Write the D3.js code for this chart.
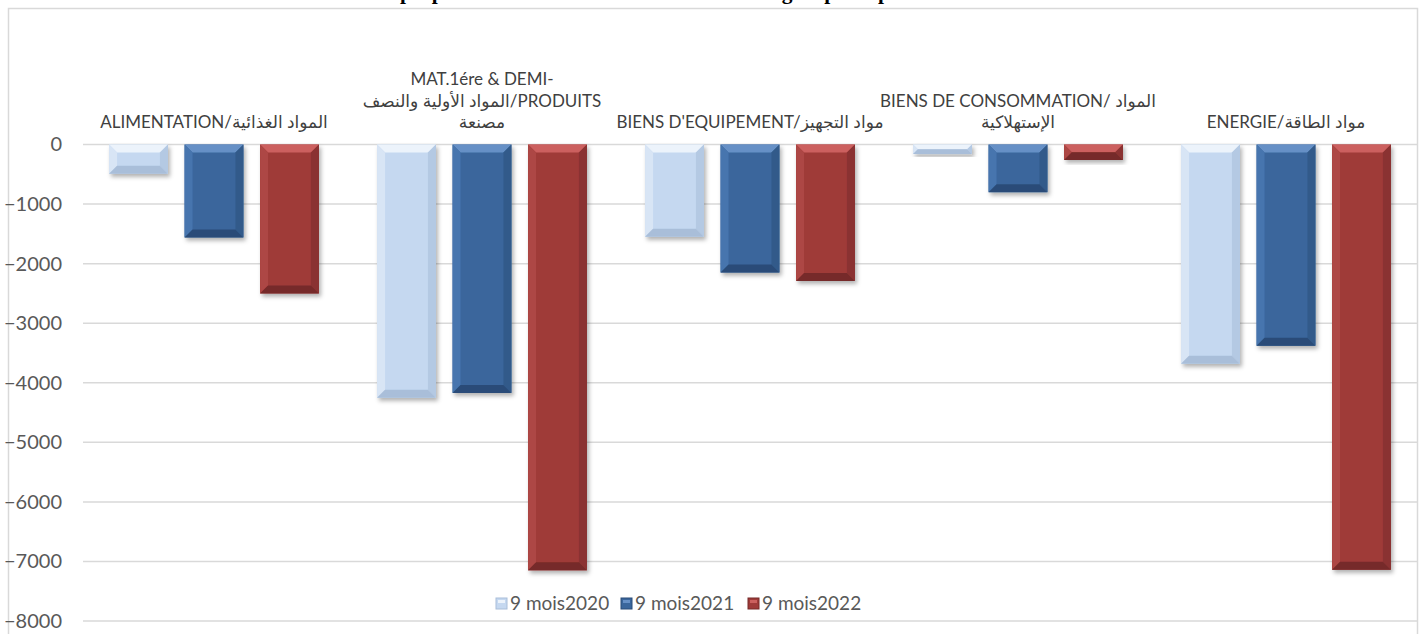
<!DOCTYPE html>
<html lang="fr">
<head>
<meta charset="UTF-8">
<title>Balance commerciale par groupe de produits</title>
<script src="https://cdnjs.cloudflare.com/ajax/libs/d3/7.8.5/d3.min.js"></script>
<style>
  html, body { margin: 0; padding: 0; background: #fff; overflow: hidden; }
  svg { display: block; }
  .tick text { font-family: Lato, "Open Sans", sans-serif; }
</style>
</head>
<body>
<div id="chart"></div>
<script>
// Data
const categories = ["ALIMENTATION", "MAT1ERE", "EQUIPEMENT", "CONSOMMATION", "ENERGIE"];
const categoryLabels = [
  ["ALIMENTATION/المواد الغذائية"],
  ["MAT.1ére & DEMI-", "المواد الأولية والنصف/PRODUITS", "مصنعة"],
  ["BIENS D'EQUIPEMENT/مواد التجهيز"],
  ["BIENS DE CONSOMMATION/ المواد", "الإستهلاكية"],
  ["ENERGIE/مواد الطاقة"]
];
const seriesNames = ["9 mois2020", "9 mois2021", "9 mois2022"];
const values2020 = [-490, -4250, -1550, -160, -3680];
const values2021 = [-1560, -4170, -2150, -800, -3380];
const values2022 = [-2500, -7150, -2290, -260, -7140];
const yTicks = [0, -1000, -2000, -3000, -4000, -5000, -6000, -7000, -8000];
const titleText = "Evolution de la proportion du déficit commercial selon le groupe de produits";

const series = [values2020, values2021, values2022];

// bar palettes: main face and the four bevel edges
const palettes = [
  { main: "#c5d8f0", top: "#ecf3fb", left: "#d8e5f5", right: "#b4c9e3", bottom: "#a9bed9" },
  { main: "#3a669c", top: "#6690c6", left: "#4675ae", right: "#315a8a", bottom: "#2a4c78" },
  { main: "#9f3a39", top: "#cc605e", left: "#ad4644", right: "#8a3231", bottom: "#762a29" }
];

const width = 1421, height = 634;
const margin = { left: 83, right: 4, top: 144.5, bottom: 13 };

const svg = d3.select("#chart").append("svg")
  .attr("width", width)
  .attr("height", height);

const defs = svg.append("defs");
const shadow = defs.append("filter").attr("id", "shadow")
  .attr("x", "-20%").attr("y", "-20%").attr("width", "150%").attr("height", "150%");
shadow.append("feDropShadow")
  .attr("dx", 2).attr("dy", 3).attr("stdDeviation", 2.2)
  .attr("flood-color", "#000").attr("flood-opacity", 0.3);

// outer frame
svg.append("rect")
  .attr("x", 8.5).attr("y", 8.5)
  .attr("width", 1409).attr("height", 640)
  .attr("fill", "none")
  .attr("stroke", "#d9d9d9")
  .attr("stroke-width", 1.5);

// title: only its descenders show at the top edge, as in the source picture
const title = svg.append("text")
  .attr("x", 0).attr("y", -1.5)
  .style("font-family", "'Liberation Serif', 'Times New Roman', serif")
  .style("font-weight", "bold")
  .style("font-size", "22px")
  .text(titleText);
{
  const node = title.node();
  const iP = titleText.indexOf("proportion");
  const iG = titleText.indexOf("groupe");
  const span = node.getStartPositionOfChar(iG).x - node.getStartPositionOfChar(iP).x;
  const fs = 22 * 382 / span;
  title.style("font-size", fs + "px");
  const px = node.getStartPositionOfChar(iP).x;
  title.attr("x", 400 - px);
}

const y = d3.scaleLinear()
  .domain([-8000, 0])
  .range([621, margin.top]);

const x0 = d3.scaleBand()
  .domain(categories)
  .range([80, 1420])
  .paddingInner(0)
  .paddingOuter(0);

const x1 = d3.scaleBand()
  .domain(d3.range(series.length))
  .range([0, x0.bandwidth()])
  .paddingInner(0.22)
  .paddingOuter(0.385);

// grid lines
svg.append("g")
  .selectAll("line")
  .data(yTicks)
  .join("line")
  .attr("x1", margin.left)
  .attr("x2", 1417)
  .attr("y1", d => y(d))
  .attr("y2", d => y(d))
  .attr("stroke", "#d9d9d9")
  .attr("stroke-width", 1.5);

// y axis labels
const yAxis = d3.axisLeft(y)
  .tickValues(yTicks)
  .tickSize(0)
  .tickPadding(0)
  .tickFormat(d3.format("d"));

svg.append("g")
  .attr("transform", "translate(62,0)")
  .call(yAxis)
  .call(g => g.select(".domain").remove())
  .call(g => g.selectAll("text")
    .attr("fill", "#595959")
    .style("font-size", "20px"));

// bars
const groups = svg.append("g")
  .selectAll("g")
  .data(categories)
  .join("g")
  .attr("transform", d => `translate(${x0(d)},0)`);

groups.each(function(cat, ci) {
  const g = d3.select(this);
  series.forEach((vals, si) => {
    const v = vals[ci];
    const bx = x1(si), bw = x1.bandwidth();
    const by = y(0), bh = y(v) - y(0);
    const b = Math.min(8, bh / 2);
    const p = palettes[si];
    const bar = g.append("g").attr("filter", "url(#shadow)");
    bar.append("rect")
      .attr("x", bx).attr("y", by)
      .attr("width", bw).attr("height", bh)
      .attr("fill", p.main);
    const poly = pts => pts.map(q => q.join(",")).join(" ");
    bar.append("polygon").attr("fill", p.top)
      .attr("points", poly([[bx, by], [bx + bw, by], [bx + bw - b, by + b], [bx + b, by + b]]));
    bar.append("polygon").attr("fill", p.left)
      .attr("points", poly([[bx, by], [bx + b, by + b], [bx + b, by + bh - b], [bx, by + bh]]));
    bar.append("polygon").attr("fill", p.right)
      .attr("points", poly([[bx + bw, by], [bx + bw - b, by + b], [bx + bw - b, by + bh - b], [bx + bw, by + bh]]));
    bar.append("polygon").attr("fill", p.bottom)
      .attr("points", poly([[bx, by + bh], [bx + bw, by + bh], [bx + bw - b, by + bh - b], [bx + b, by + bh - b]]));
  });
});

// category labels above the zero line
const lineH = 21.5;
svg.append("g")
  .selectAll("text")
  .data(categoryLabels)
  .join("text")
  .attr("x", (d, i) => x0(categories[i]) + x0.bandwidth() / 2)
  .attr("y", d => 128 - (d.length - 1) * lineH)
  .attr("text-anchor", "middle")
  .attr("fill", "#404040")
  .style("font-family", "Lato, 'DejaVu Sans', sans-serif")
  .style("font-size", "17px")
  .selectAll("tspan")
  .data(d => d)
  .join("tspan")
  .attr("x", function() { return d3.select(this.parentNode).attr("x"); })
  .attr("dy", (d, i) => i === 0 ? 0 : lineH)
  .text(d => d);

// legend
const legend = svg.append("g").attr("transform", "translate(496,604)");
const itemX = [0, 125, 252];
seriesNames.forEach((name, i) => {
  const p = palettes[i];
  const item = legend.append("g").attr("transform", `translate(${itemX[i]},0)`);
  item.append("rect")
    .attr("x", 0).attr("y", -6).attr("width", 11).attr("height", 11)
    .attr("fill", p.main).attr("stroke", p.bottom).attr("stroke-width", 1);
  item.append("rect")
    .attr("x", 2).attr("y", -4).attr("width", 7).attr("height", 3)
    .attr("fill", p.top);
  item.append("text")
    .attr("x", 14).attr("y", 6)
    .attr("fill", "#595959")
    .style("font-family", "Lato, 'Open Sans', sans-serif")
    .style("font-size", "19px")
    .text(name);
});
</script>
</body>
</html>
